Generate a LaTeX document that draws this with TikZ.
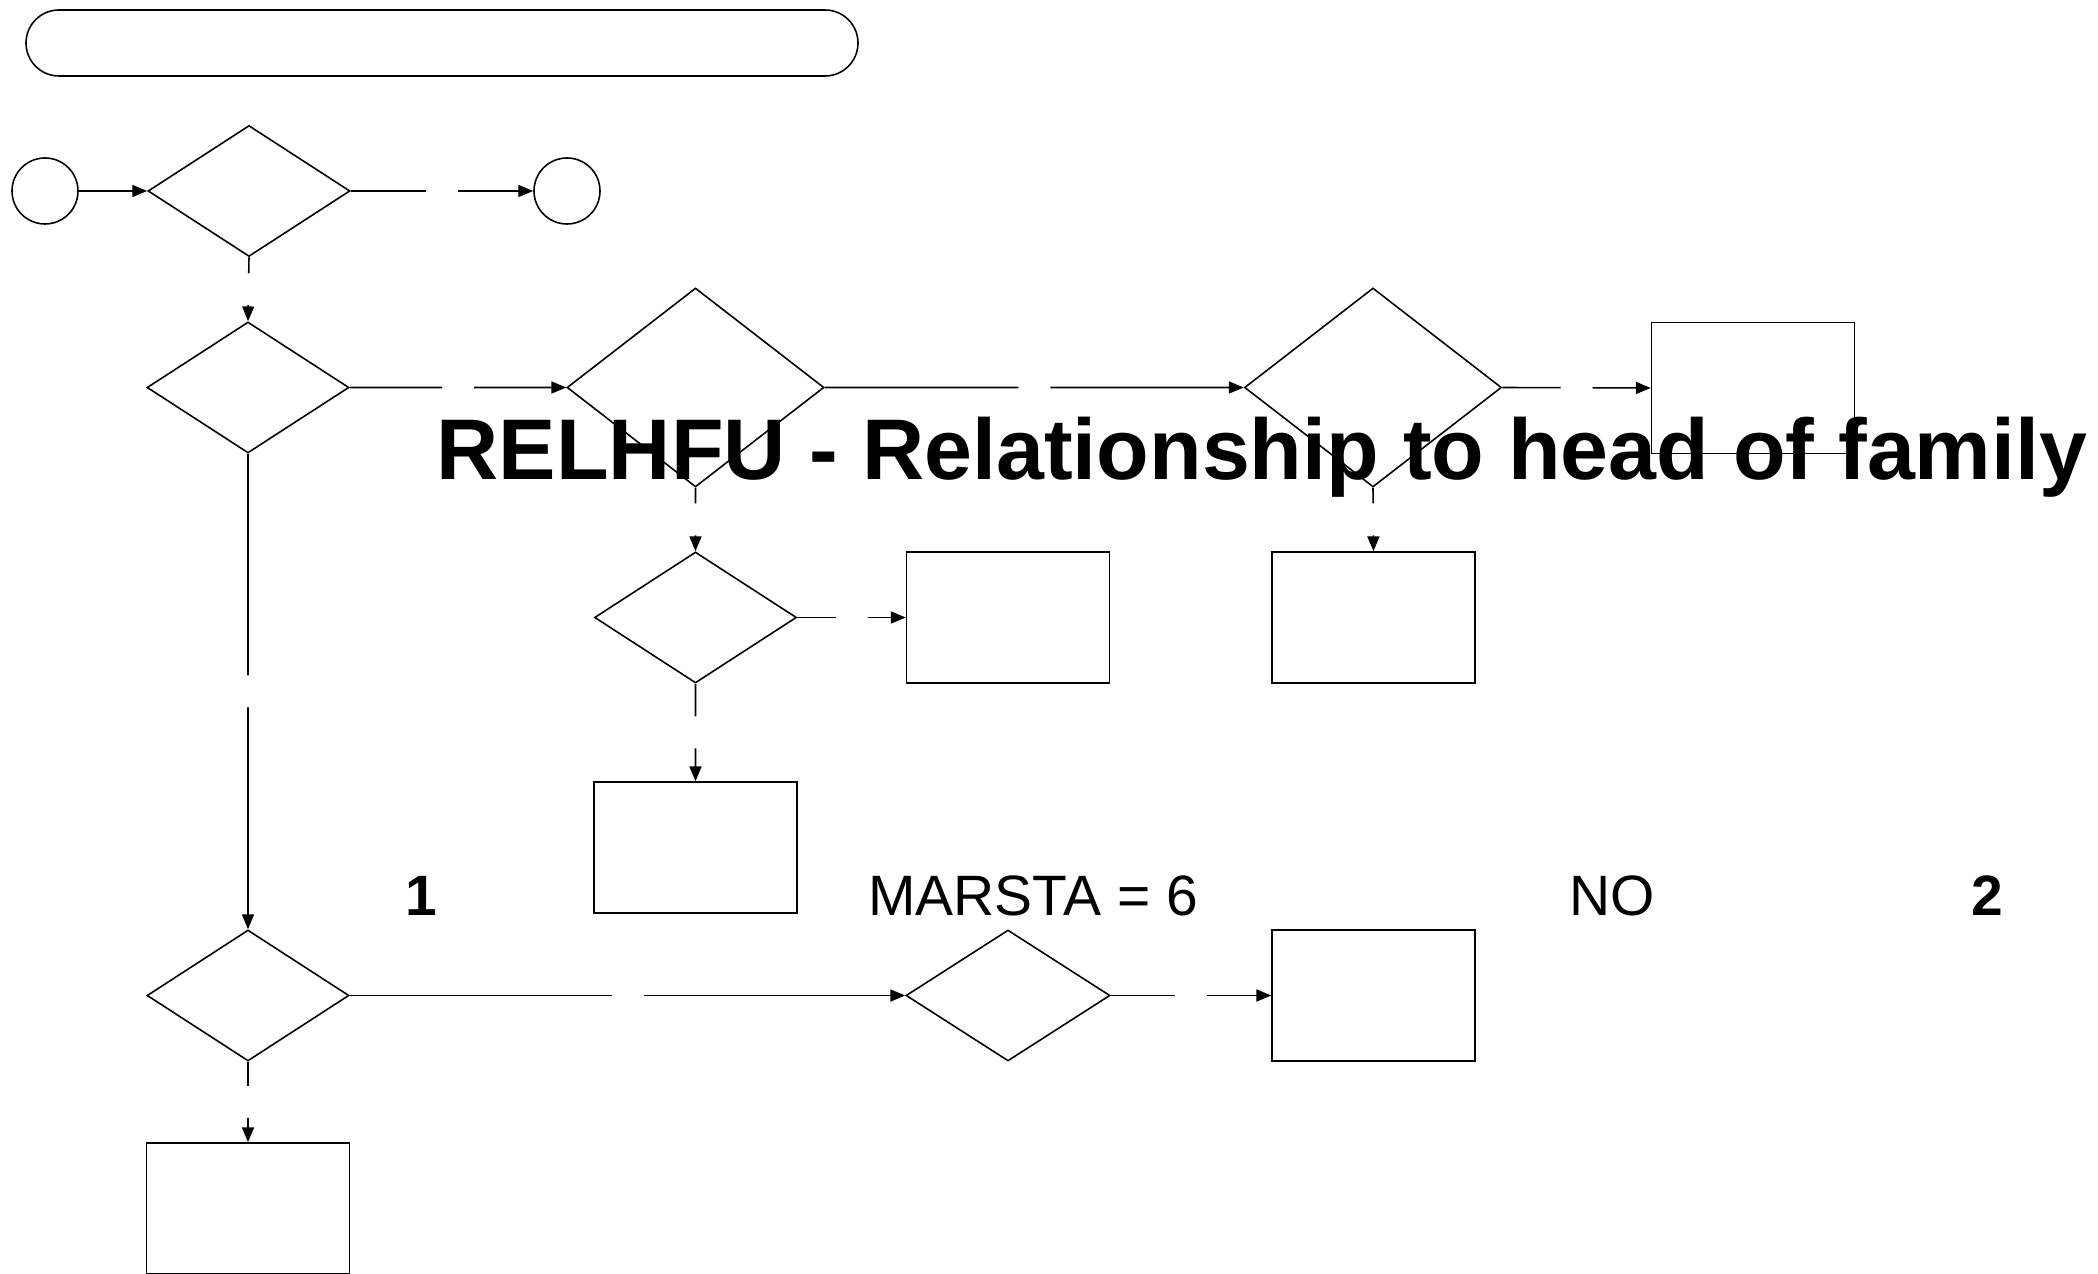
\documentclass[tikz,border=0pt]{standalone}
\usepackage{fontspec}
\setmainfont{Liberation Sans}
\usetikzlibrary{arrows.meta,calc,shapes.geometric}
\definecolor{flowblack}{HTML}{000000}

% connector with a blank gap in its middle
\newcommand{\gaplink}[2]{%
  \coordinate (gapmid) at ($(#1)!0.5!(#2)$);
  \draw[flow] (#1) -- ($(gapmid)!0.16cm!(#1)$);
  \draw[flow,-{Triangle[length=4.2pt,width=3.4pt]}] ($(gapmid)!0.16cm!(#2)$) -- (#2);}

\begin{document}
\begin{tikzpicture}[line width=0.45pt,
  decision/.style={draw=flowblack,diamond,inner sep=0pt,minimum width=2.02cm,minimum height=1.31cm},
  bigdecision/.style={decision,minimum width=2.57cm,minimum height=1.99cm},
  process/.style={draw=flowblack,rectangle,inner sep=0pt,minimum width=2.03cm,minimum height=1.31cm},
  terminal/.style={draw=flowblack,circle,inner sep=0pt,minimum size=0.66cm},
  flow/.style={draw=flowblack},
  label/.style={anchor=base,font=\fontsize{16.2}{19}\selectfont}]
\useasboundingbox (0,0) rectangle (20.98,-12.74);
\clip (0,0) rectangle (20.98,-12.74);

\node[draw=flowblack,rounded corners=0.33cm,minimum width=8.32cm,minimum height=0.66cm] (banner) at (4.42,-0.43) {};

\node[terminal] (start) at (0.45,-1.91) {};
\node[decision] (d1) at (2.49,-1.91) {};
\node[terminal] (stop) at (5.67,-1.91) {};

\node[decision] (d2) at (2.48,-3.875) {};
\node[bigdecision] (d3) at (6.955,-3.875) {};
\node[bigdecision] (d4) at (13.73,-3.875) {};
\node[process] (b1) at (17.53,-3.88) {};

\node[decision] (d5) at (6.955,-6.175) {};
\node[process] (b2) at (10.08,-6.175) {};
\node[process] (b3) at (13.735,-6.175) {};
\node[process] (b4) at (6.955,-8.475) {};

\node[decision] (d6) at (2.48,-9.955) {};
\node[decision,minimum width=2.04cm] (d7) at (10.08,-9.955) {};
\node[process] (b5) at (13.735,-9.955) {};
\node[process] (b6) at (2.48,-12.085) {};

\draw[flow,-{Triangle[length=4.2pt,width=3.4pt]}] (start) -- (d1);
\gaplink{d1.east}{stop.west}
\gaplink{d1.south}{d2.north}
\gaplink{d2.east}{d3.west}
\gaplink{d3.east}{d4.west}
\gaplink{d4.east}{b1.west}
\gaplink{d3.south}{d5.north}
\gaplink{d5.east}{b2.west}
\gaplink{d4.south}{b3.north}
\gaplink{d5.south}{b4.north}
\gaplink{d2.south}{d6.north}
\gaplink{d6.east}{d7.west}
\gaplink{d7.east}{b5.west}
\gaplink{d6.south}{b6.north}

\node[label,font=\bfseries\fontsize{16.2}{19}\selectfont] (one) at (4.21,-9.16) {1};
\node[label] (marsta) at (10.33,-9.16) {MARSTA = 6};
\node[label] (no) at (16.12,-9.16) {NO};
\node[label,font=\bfseries\fontsize{16.2}{19}\selectfont] (two) at (19.87,-9.16) {2};

\node[anchor=base,font=\bfseries\fontsize{24.5}{29}\selectfont] (title) at (12.62,-4.80) {RELHFU - Relationship to head of family};
\end{tikzpicture}
\end{document}
